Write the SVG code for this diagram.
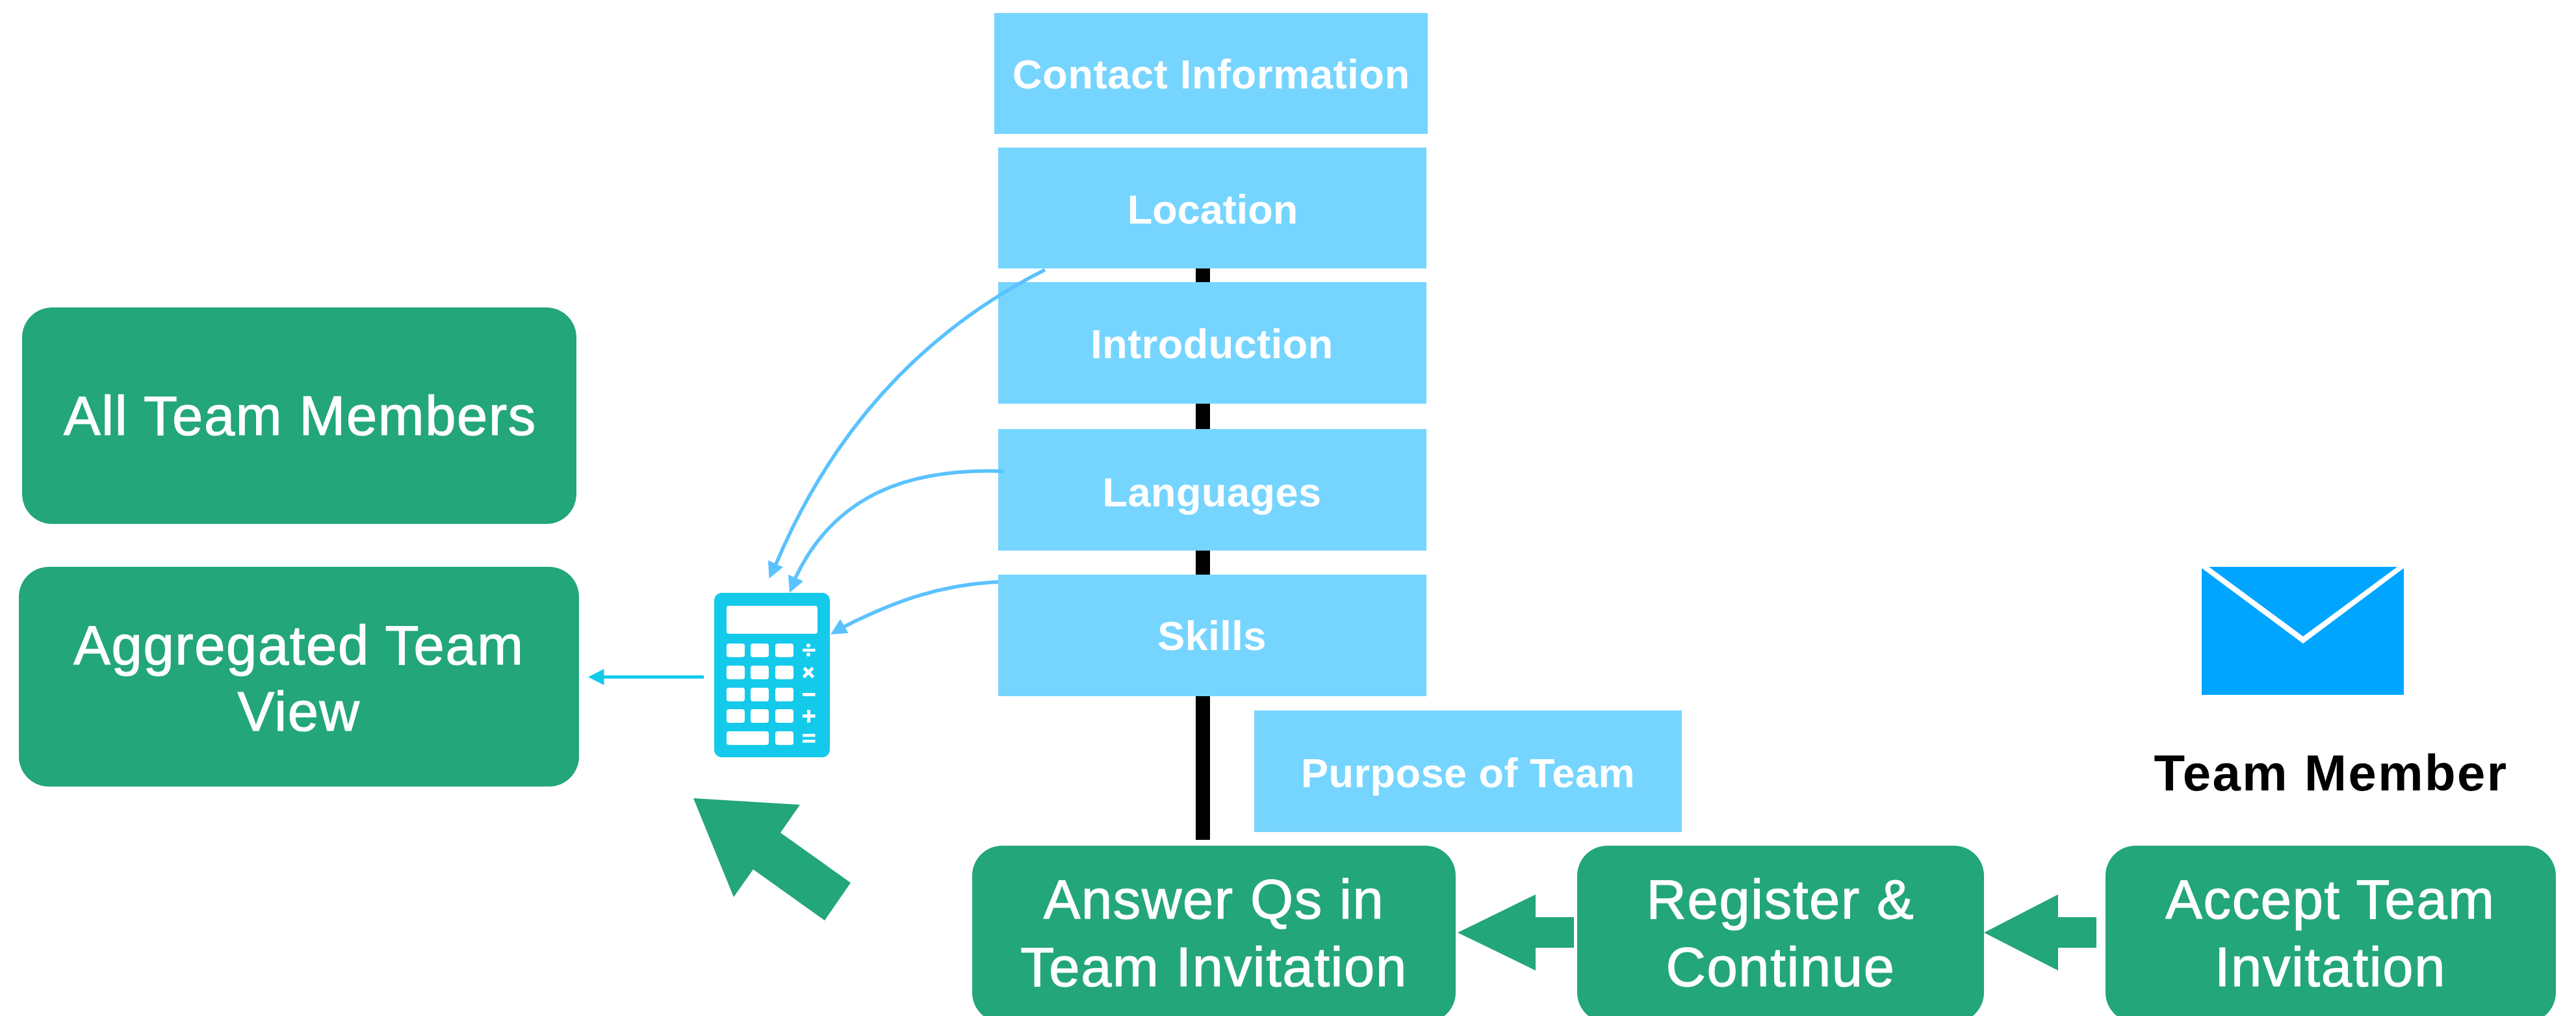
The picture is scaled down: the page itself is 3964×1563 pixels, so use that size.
<svg xmlns="http://www.w3.org/2000/svg" width="3964" height="1563" viewBox="0 0 3964 1563">
<defs>
<style>
.blue{fill:#76D5FF}
.green{fill:#23A679}
.bl{font:bold 63px "Liberation Sans",Arial,sans-serif;fill:#fff;text-anchor:middle;letter-spacing:.5px}
.gl{font:85px "Liberation Sans",Arial,sans-serif;fill:#fff;stroke:#fff;stroke-width:1.200;text-anchor:middle;letter-spacing:1.600px}
.calc{fill:#fff}
.curve{fill:none;stroke:#5AC2FF;stroke-width:5.500}
.head{fill:#5AC2FF}
</style>
</defs>
<rect width="3964" height="1563" fill="#fff"/>
<g id="bar"><rect x="1840" y="400" width="22" height="892" fill="#000"/></g>
<g id="connector-under"><path class="curve" d="M1540 895C1450 899 1380 923 1299 964"/></g>
<g id="contact"><rect class="blue" x="1530" y="20" width="667" height="186"/><text class="bl" x="1864" y="136" style="letter-spacing:.7px">Contact Information</text></g>
<g id="location"><rect class="blue" x="1536" y="227" width="659" height="186"/><text class="bl" x="1866" y="344" style="letter-spacing:0">Location</text></g>
<g id="introduction"><rect class="blue" x="1536" y="434" width="659" height="187"/><text class="bl" x="1865" y="551">Introduction</text></g>
<g id="languages"><rect class="blue" x="1536" y="660" width="659" height="187"/><text class="bl" x="1865" y="779">Languages</text></g>
<g id="skills"><rect class="blue" x="1536" y="884" width="659" height="187"/><text class="bl" x="1865" y="1000">Skills</text></g>
<g id="purpose"><rect class="blue" x="1930" y="1093" width="658" height="187"/><text class="bl" x="2259" y="1211">Purpose of Team</text></g>
<g id="all-team"><rect class="green" x="34" y="473" width="853" height="333" rx="46"/><text class="gl" x="462" y="669">All Team Members</text></g>
<g id="aggregated"><rect class="green" x="29" y="872" width="862" height="338" rx="46"/><text class="gl" x="460" y="1022">Aggregated Team</text><text class="gl" x="460" y="1124">View</text></g>
<g id="answer"><rect class="green" x="1496" y="1301" width="744" height="272" rx="46"/><text class="gl" x="1868" y="1413">Answer Qs in</text><text class="gl" x="1868" y="1517">Team Invitation</text></g>
<g id="register"><rect class="green" x="2427" y="1301" width="626" height="272" rx="46"/><text class="gl" x="2740" y="1413">Register &amp;</text><text class="gl" x="2740" y="1517">Continue</text></g>
<g id="accept"><rect class="green" x="3240" y="1301" width="693" height="272" rx="46"/><text class="gl" x="3586" y="1413">Accept Team</text><text class="gl" x="3586" y="1517">Invitation</text></g>
<g id="team-member"><path fill="#00A5FF" d="M3388 874L3544 990L3699 874V1069H3388ZM3399 872H3689L3544 979Z"/><text x="3587" y="1216" style="font:bold 78px 'Liberation Sans',Arial,sans-serif;fill:#000;text-anchor:middle;letter-spacing:2.400px">Team Member</text></g>
<g id="calculator">
<rect x="1099" y="912" width="178" height="253" rx="12" fill="#14CAEB"/>
<rect class="calc" x="1118" y="932" width="140" height="43" rx="4"/>
<g class="calc">
<rect x="1118" y="990" width="28" height="21" rx="4"/><rect x="1155" y="990" width="28" height="21" rx="4"/><rect x="1193" y="990" width="28" height="21" rx="4"/>
<rect x="1118" y="1024" width="28" height="21" rx="4"/><rect x="1155" y="1024" width="28" height="21" rx="4"/><rect x="1193" y="1024" width="28" height="21" rx="4"/>
<rect x="1118" y="1058" width="28" height="21" rx="4"/><rect x="1155" y="1058" width="28" height="21" rx="4"/><rect x="1193" y="1058" width="28" height="21" rx="4"/>
<rect x="1118" y="1091" width="28" height="21" rx="4"/><rect x="1155" y="1091" width="28" height="21" rx="4"/><rect x="1193" y="1091" width="28" height="21" rx="4"/>
<rect x="1118" y="1125" width="65" height="21" rx="4"/><rect x="1193" y="1125" width="28" height="21" rx="4"/>
<circle cx="1244" cy="993" r="3"/><rect x="1235" y="998" width="19.500" height="4.500"/><circle cx="1244" cy="1007" r="3"/>
<path d="M1234 1034.500h20" stroke="#fff" stroke-width="5" transform="rotate(45 1244 1035)"/><path d="M1234 1034.500h20" stroke="#fff" stroke-width="5" transform="rotate(-45 1244 1035)"/>
<rect x="1235" y="1066" width="19.500" height="5"/>
<rect x="1235" y="1099" width="19.500" height="5"/><rect x="1242" y="1092" width="5" height="19.500"/>
<rect x="1235" y="1129" width="19.500" height="4.500"/><rect x="1235" y="1138" width="19.500" height="4.500"/>
</g>
</g>
<g id="connectors">
<path class="curve" d="M1608 415C1440 500 1290 640 1194 868"/><path class="head" d="M1183.500 890L1182 862L1205 872.500Z"/>
<path class="curve" d="M1545 725C1400 720 1285 760 1224 889"/><path class="head" d="M1215 912L1213 884L1236 894Z"/>
<path class="head" d="M1278 976L1293 952.500L1305.600 974Z"/>
<path fill="#14CAEB" d="M905 1041.500L929.500 1029V1039H1083V1044H929.500V1054Z"/>
<path class="green" d="M1067 1228L1231 1238L1201 1281L1309 1358L1269 1416L1159 1337.500L1129 1380Z"/>
<path class="green" d="M2243 1434.700L2363 1376V1411H2422V1458H2363V1493Z"/>
<path class="green" d="M3053 1434.700L3167 1376V1411H3226V1458H3167V1493Z"/>
</g>
</svg>
